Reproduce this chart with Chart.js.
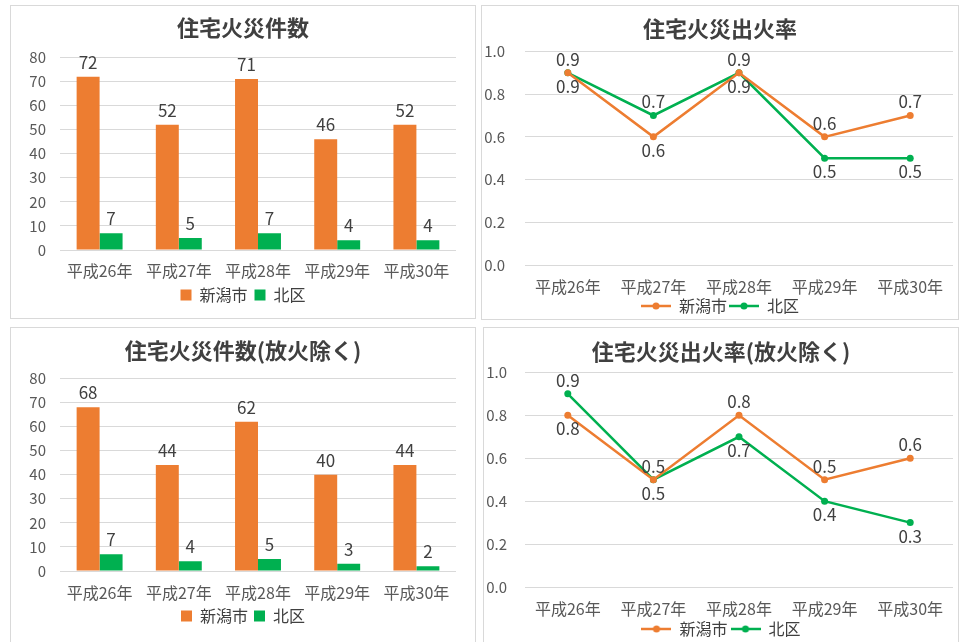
<!DOCTYPE html>
<html lang="ja">
<head>
<meta charset="utf-8">
<script src="https://cdn.jsdelivr.net/npm/chart.js@4.4.1/dist/chart.umd.min.js"></script>
<style>
  body { margin: 0; background: #fff; width: 963px; height: 642px; overflow: hidden; position: relative; }
  .panel { position: absolute; border: 1px solid #d9d9d9; background: #fff; box-sizing: border-box; overflow: hidden; }
  .panel canvas { display: block; }
</style>
</head>
<body>
<div class="panel" style="left:10px;top:5px;width:466px;height:314px"><canvas id="c1" width="464" height="312"></canvas></div>
<div class="panel" style="left:481px;top:5px;width:478px;height:315px"><canvas id="c2" width="476" height="313"></canvas></div>
<div class="panel" style="left:10px;top:327px;width:466px;height:320px"><canvas id="c3" width="464" height="318"></canvas></div>
<div class="panel" style="left:483px;top:327px;width:476px;height:320px"><canvas id="c4" width="474" height="318"></canvas></div>

<script>
// 年度と系列名
const years = ["平成26年", "平成27年", "平成28年", "平成29年", "平成30年"];
const seriesNames = ["新潟市", "北区"];

// 住宅火災件数
const countCity = [72, 52, 71, 46, 52];
const countKita = [7, 5, 7, 4, 4];
// 住宅火災出火率
const rateCity = [0.9, 0.6, 0.9, 0.6, 0.7];
const rateKita = [0.9, 0.7, 0.9, 0.5, 0.5];
// 住宅火災件数（放火除く）
const countCityExArson = [68, 44, 62, 40, 44];
const countKitaExArson = [7, 4, 5, 3, 2];
// 住宅火災出火率（放火除く）
const rateCityExArson = [0.8, 0.5, 0.8, 0.5, 0.6];
const rateKitaExArson = [0.9, 0.5, 0.7, 0.4, 0.3];

// 縦軸の目盛り
const countAxis = { max: 80, step: 10 };
const rateAxis = { max: 1.0, step: 0.2 };

const ORANGE = "#ED7D31";
const GREEN = "#00B050";
const FONT = '"Noto Sans CJK JP", "Noto Sans", sans-serif';

Chart.defaults.font.family = FONT;
Chart.defaults.color = "#595959";
Chart.defaults.animation = false;
Chart.defaults.responsive = false;

// 値ラベル（棒は上、折れ線は相手系列との比較で上下）
const valueLabels = {
  id: "valueLabels",
  afterDatasetsDraw(chart) {
    const { ctx } = chart;
    const isLine = chart.config.type === "line";
    ctx.save();
    ctx.font = "17px " + FONT;
    ctx.fillStyle = "#404040";
    ctx.textAlign = "center";
    chart.data.datasets.forEach((ds, di) => {
      const meta = chart.getDatasetMeta(di);
      meta.data.forEach((el, i) => {
        const v = ds.data[i];
        const text = isLine ? v.toFixed(1) : String(v);
        let above = true;
        if (isLine) {
          const other = chart.data.datasets[1 - di].data[i];
          above = v > other || (v === other && di === 1);
        }
        if (above) {
          ctx.textBaseline = "bottom";
          ctx.fillText(text, el.x, el.y - (isLine ? 5 : 6));
        } else {
          ctx.textBaseline = "top";
          ctx.fillText(text, el.x, el.y + 5);
        }
      });
    });
    ctx.restore();
  },
};

// 凡例用の線＋マーカー
function lineSwatch(color) {
  const c = document.createElement("canvas");
  c.width = 30;
  c.height = 10;
  const g = c.getContext("2d");
  g.strokeStyle = color;
  g.lineWidth = 2.5;
  g.beginPath();
  g.moveTo(0, 5);
  g.lineTo(30, 5);
  g.stroke();
  g.fillStyle = color;
  g.beginPath();
  g.arc(15, 5, 3.5, 0, Math.PI * 2);
  g.fill();
  return c;
}
const swatches = [lineSwatch(ORANGE), lineSwatch(GREEN)];

function commonOptions(title, lay, axis, isLine) {
  return {
    layout: {
      padding: { left: lay.padLeft, right: 0, top: 0, bottom: lay.padBottom },
    },
    plugins: {
      title: {
        display: true,
        text: title,
        color: "#404040",
        font: { size: 22, weight: "bold" },
        padding: { top: lay.titleTop, bottom: lay.titleBottom },
      },
      legend: {
        position: "bottom",
        labels: isLine
          ? {
              color: "#404040",
              font: { size: 16 },
              padding: lay.legendPad,
              usePointStyle: true,
              pointStyleWidth: 30,
              generateLabels(chart) {
                const items = Chart.defaults.plugins.legend.labels.generateLabels(chart);
                items.forEach((it, i) => { it.pointStyle = swatches[i]; });
                return items;
              },
            }
          : {
              color: "#404040",
              font: { size: 16 },
              padding: lay.legendPad,
              boxWidth: 11,
              boxHeight: 11,
            },
      },
      tooltip: { enabled: false },
    },
    scales: {
      x: {
        offset: true,
        grid: { display: false, drawTicks: false },
        border: { display: false },
        ticks: { font: { size: 16 }, padding: lay.xPad, maxRotation: 0 },
        afterFit(scale) { scale.height = lay.xHeight; },
      },
      y: {
        min: 0,
        max: axis.max,
        grid: { color: "#d9d9d9", drawTicks: false },
        border: { display: false },
        ticks: {
          stepSize: axis.step,
          font: { size: 15 },
          padding: lay.yPad,
          callback: (v) => (isLine ? v.toFixed(1) : v),
        },
        afterFit(scale) { scale.width = lay.yWidth; },
      },
      // 右側の余白（タイトルをパネル全幅の中央に置くため）
      gutter: {
        axis: "y",
        position: "right",
        grid: { display: false, drawTicks: false },
        border: { display: false },
        ticks: { display: false },
        afterFit(scale) { scale.width = lay.rightGap; },
      },
    },
  };
}

function barChart(id, title, city, kita, lay) {
  return new Chart(document.getElementById(id), {
    type: "bar",
    data: {
      labels: years,
      datasets: [
        { label: seriesNames[0], data: city, backgroundColor: ORANGE, categoryPercentage: 0.58, barPercentage: 1 },
        { label: seriesNames[1], data: kita, backgroundColor: GREEN, categoryPercentage: 0.58, barPercentage: 1 },
      ],
    },
    options: commonOptions(title, lay, countAxis, false),
    plugins: [valueLabels],
  });
}

function lineChart(id, title, city, kita, lay) {
  const style = (color) => ({
    borderColor: color,
    backgroundColor: color,
    borderWidth: 2.5,
    pointRadius: 3.5,
    pointBorderWidth: 0,
    pointBackgroundColor: color,
    tension: 0,
  });
  return new Chart(document.getElementById(id), {
    type: "line",
    data: {
      labels: years,
      datasets: [
        { label: seriesNames[0], data: city, ...style(ORANGE) },
        { label: seriesNames[1], data: kita, ...style(GREEN) },
      ],
    },
    options: commonOptions(title, lay, rateAxis, true),
    plugins: [valueLabels],
  });
}

barChart("c1", "住宅火災件数", countCity, countKita, {
  padLeft: 0, rightGap: 19, padBottom: 5, titleTop: 8, titleBottom: 17,
  xHeight: 30, xPad: 11, yWidth: 49, yPad: 14, legendPad: 7,
});
lineChart("c2", "住宅火災出火率", rateCity, rateKita, {
  padLeft: 0, rightGap: 5, padBottom: -5, titleTop: 9, titleBottom: 10,
  xHeight: 31, xPad: 12, yWidth: 43, yPad: 20, legendPad: 2,
});
barChart("c3", "住宅火災件数(放火除く)", countCityExArson, countKitaExArson, {
  padLeft: 0, rightGap: 19, padBottom: 12, titleTop: 9, titleBottom: 15,
  xHeight: 31, xPad: 12, yWidth: 49, yPad: 14, legendPad: 6,
});
lineChart("c4", "住宅火災出火率(放火除く)", rateCityExArson, rateKitaExArson, {
  padLeft: 0, rightGap: 5, padBottom: -1, titleTop: 10, titleBottom: 8,
  xHeight: 31, xPad: 12, yWidth: 41, yPad: 18, legendPad: 3,
});
</script>
</body>
</html>
